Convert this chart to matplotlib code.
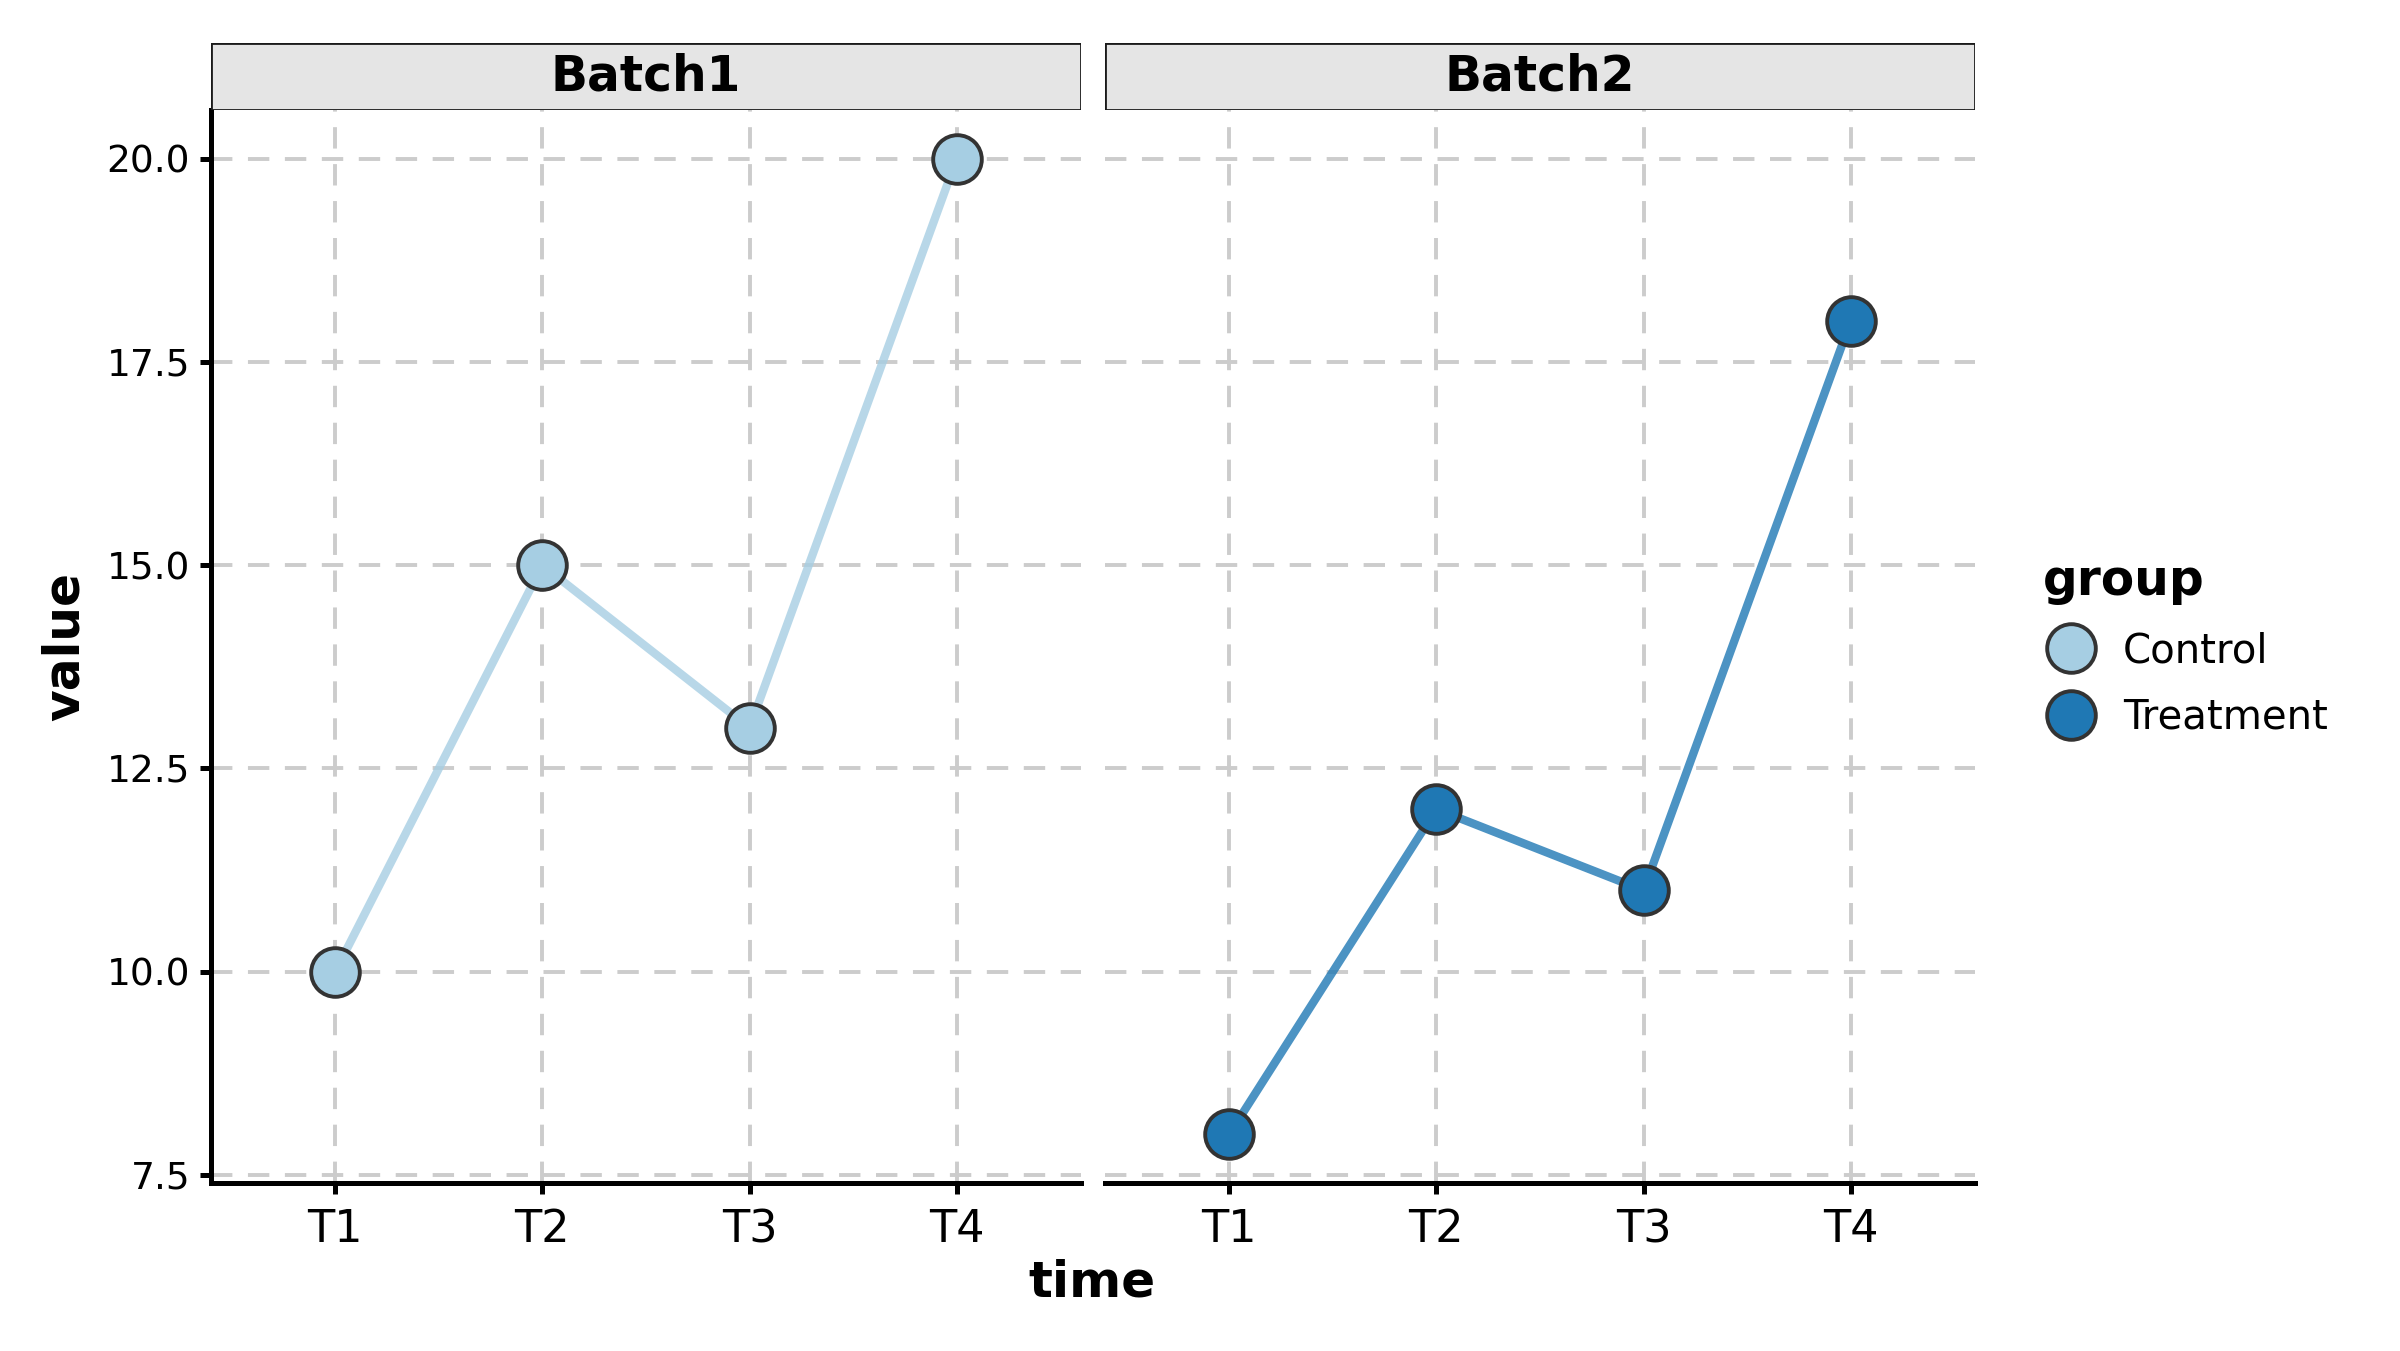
import matplotlib

matplotlib.use("Agg")
import matplotlib.pyplot as plt  # noqa: E402
from matplotlib.lines import Line2D  # noqa: E402
from matplotlib.patches import Rectangle  # noqa: E402

# dados
times = ["T1", "T2", "T3", "T4"]
batches = ["Batch1", "Batch2"]
groups = ["Control", "Treatment"]
control_values = [10, 15, 13, 20]
treatment_values = [8, 12, 11, 18]
y_ticks = [7.5, 10.0, 12.5, 15.0, 17.5, 20.0]

marker_colors = {"Control": "#a6cee3", "Treatment": "#1f78b4"}
panel_data = [("Batch1", "Control", control_values), ("Batch2", "Treatment", treatment_values)]

plt.rcParams["font.family"] = "DejaVu Sans"
fig = plt.figure(figsize=(12, 6.755), dpi=200)

bottom, top = 0.1243, 0.9186
lefts = [0.0879, 0.4604]
width = 0.3625
strip_h = 0.0496
ms = 17.5

x = list(range(1, len(times) + 1))
for i, (batch, grp, vals) in enumerate(panel_data):
    ax = fig.add_axes([lefts[i], bottom, width, top - bottom])
    col = marker_colors[grp]
    ax.plot(x, vals, color=col, alpha=0.8, lw=3.0, zorder=3, solid_capstyle="butt")
    ax.plot(x, vals, "o", ms=ms, mfc=col, mec="#333333", mew=1.4, zorder=4, ls="none")
    ax.set_xlim(0.4, 4.6)
    ax.set_ylim(7.4, 20.6)
    ax.set_xticks(x)
    ax.set_xticklabels(times)
    ax.set_yticks(y_ticks)
    ax.grid(True, color="#cccccc", linestyle=(0, (5.5, 4)), lw=1.4, zorder=0)
    ax.spines[["top", "right"]].set_visible(False)
    ax.spines["bottom"].set_linewidth(1.8)
    ax.spines["left"].set_linewidth(1.8)
    ax.tick_params(axis="both", length=4, width=1.8, color="black", labelsize=13.5)
    ax.tick_params(axis="x", labelsize=16, pad=5)
    if i == 0:
        ax.set_yticklabels([f"{v:.1f}" for v in y_ticks])
    else:
        ax.spines["left"].set_visible(False)
        ax.tick_params(axis="y", length=0, labelleft=False)

    # faixa do facet
    sax = fig.add_axes([lefts[i], top, width, strip_h])
    sax.add_patch(Rectangle((0, 0), 1, 1, transform=sax.transAxes, facecolor="#e5e5e5",
                            edgecolor="#1a1a1a", lw=1.0))
    sax.text(0.5, 0.5, batch, ha="center", va="center", fontsize=17.5, fontweight="bold")
    sax.set_axis_off()

fig.text(0.027, (bottom + top) / 2, "value", rotation=90, ha="center", va="center",
         fontsize=17.5, fontweight="bold")
fig.text(0.455, 0.051, "time", ha="center", va="center", fontsize=18, fontweight="bold")

handles = [Line2D([], [], ls="none", marker="o", ms=ms, mfc=marker_colors[g],
                  mec="#333333", mew=1.4) for g in groups]
leg = fig.legend(handles, groups, title="group", loc="upper left",
                 bbox_to_anchor=(0.851, 0.588), frameon=False, fontsize=14.5,
                 title_fontproperties={"weight": "bold", "size": 17.5},
                 handlelength=1.4, handletextpad=0.6, labelspacing=0.66,
                 borderpad=0, borderaxespad=0)
leg._legend_box.align = "left"

fig.savefig("out.png", dpi=200)
